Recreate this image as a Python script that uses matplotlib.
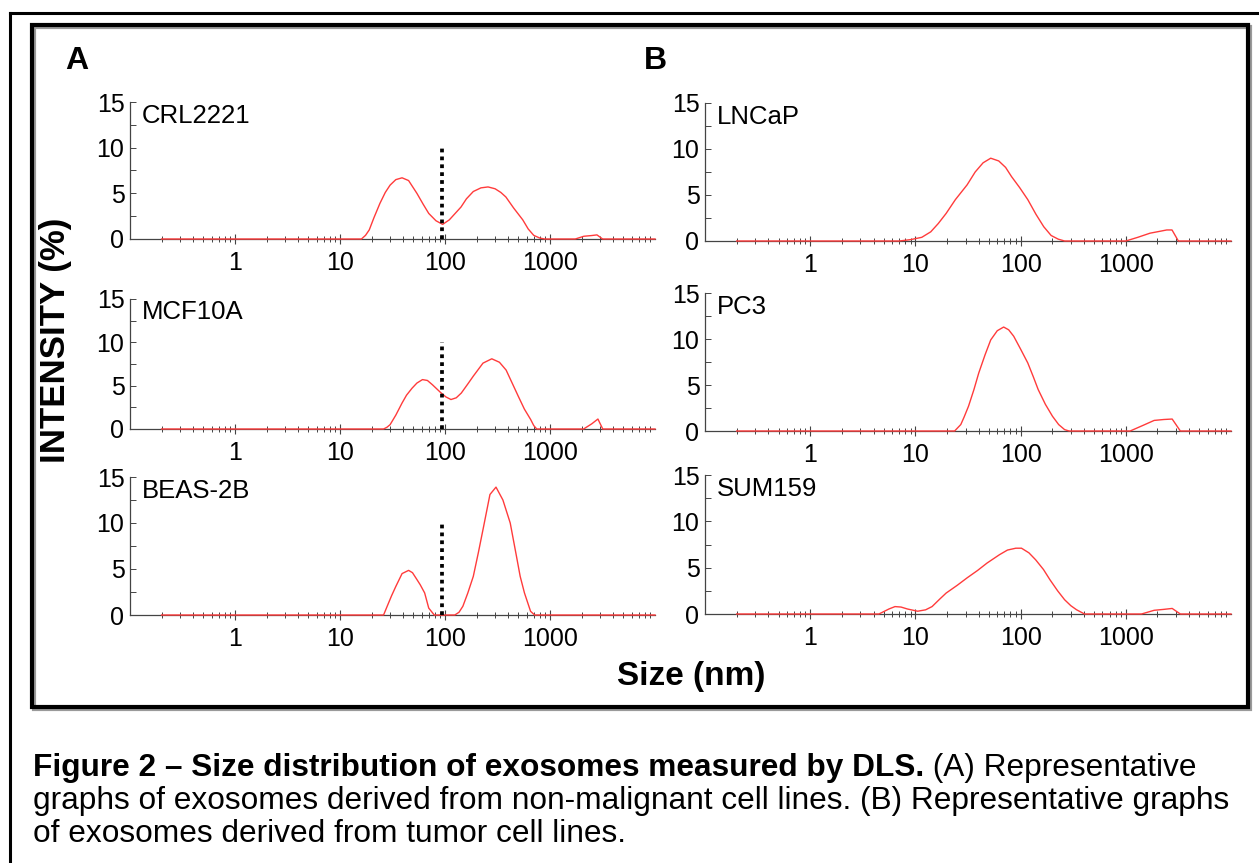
import numpy as np
import matplotlib
matplotlib.use("Agg")
import matplotlib.pyplot as plt
from matplotlib.lines import Line2D
from matplotlib.patches import Rectangle
from matplotlib.ticker import LogLocator, NullFormatter

plt.rcParams['font.family'] = ['Liberation Sans', 'DejaVu Sans']

# ---- data (size nm, intensity %) ----
crl_size = [0.2, 16, 17.5, 19, 21, 24, 27, 30, 34, 39, 45, 54, 62, 70, 82, 95, 110, 125, 142, 160, 186,
            220, 257, 300, 340, 380, 450, 550, 620, 700, 800, 890,
            1740, 2100, 2500, 2800, 3170, 10000]
crl_int = [0, 0, 0.4, 1.0, 2.3, 3.9, 5.1, 5.9, 6.5, 6.7, 6.4, 5.0, 3.8, 2.8, 2.0, 1.6, 2.1, 2.8, 3.5, 4.4,
           5.2, 5.6, 5.7, 5.5, 5.1, 4.6, 3.4, 2.1, 1.1, 0.4, 0.1, 0,
           0, 0.3, 0.38, 0.45, 0, 0]

mcf_size = [0.2, 26, 28, 30, 34, 39, 43, 48.5, 54, 61, 68, 76, 91, 102, 114, 128, 143, 165, 186, 230,
            279, 330, 382, 440, 500, 570, 654, 700, 748, 2090, 2500, 2860, 3180, 10000]
mcf_int = [0, 0, 0.2, 0.5, 1.6, 3.0, 3.9, 4.7, 5.3, 5.7, 5.6, 5.1, 4.2, 3.7, 3.4, 3.6, 4.15, 5.2, 6.1,
           7.6, 8.1, 7.7, 6.8, 5.2, 3.75, 2.3, 1.1, 0.4, 0, 0, 0.6, 1.15, 0, 0]

beas_size = [0.2, 26, 28.5, 31, 34, 39, 45, 49, 53, 58, 64, 70, 79, 124, 136, 148, 165, 186, 208, 233,
             268, 306, 356, 418, 479, 520, 571, 653, 714, 10000]
beas_int = [0, 0, 1.1, 2.1, 3.1, 4.5, 4.85, 4.6, 4.0, 3.3, 2.4, 0.75, 0, 0, 0.3, 0.95, 2.4, 4.2, 6.8, 9.6,
            13.1, 13.9, 12.5, 10.0, 6.4, 4.2, 2.4, 0.4, 0, 0]

lncap_size = [0.2, 7, 9, 11.5, 14, 16.5, 19.6, 24, 31, 37, 44, 52, 62, 72, 82, 98, 117, 140, 166, 195,
              228, 262, 1000, 1300, 1700, 2100, 2450, 2750, 3160, 10000]
lncap_int = [0, 0, 0.15, 0.4, 1.0, 1.9, 3.0, 4.5, 6.1, 7.5, 8.5, 9.0, 8.7, 8.0, 7.0, 5.8, 4.5, 2.9, 1.55,
             0.6, 0.2, 0, 0, 0.4, 0.85, 1.05, 1.2, 1.2, 0, 0]

pc3_size = [0.2, 23.6, 27, 29, 32, 36, 40, 46, 52, 60, 69, 77, 86, 100, 117, 132, 147, 172, 201, 230,
            262, 289, 1100, 1450, 1860, 2300, 2760, 3300, 10000]
pc3_int = [0, 0, 0.7, 1.5, 2.7, 4.5, 6.3, 8.3, 9.9, 10.9, 11.3, 11.0, 10.3, 8.9, 7.4, 5.9, 4.5, 2.9, 1.6,
           0.7, 0.15, 0, 0, 0.6, 1.15, 1.25, 1.3, 0, 0]

sum_size = [0.2, 4.5, 5.6, 6.4, 7.3, 8.4, 10.5, 12.5, 14.4, 17, 19.6, 25, 31, 39, 48, 63, 75, 90, 102,
            120, 139, 165, 190, 225, 262, 300, 340, 405, 1410, 1860, 2300, 2760, 3300, 10000]
sum_int = [0, 0, 0.54, 0.8, 0.75, 0.54, 0.3, 0.45, 0.8, 1.6, 2.26, 3.1, 3.9, 4.7, 5.5, 6.4, 6.9, 7.1,
           7.1, 6.6, 5.85, 4.8, 3.7, 2.5, 1.54, 0.9, 0.46, 0, 0, 0.4, 0.5, 0.6, 0, 0]

panel_names = ['CRL2221', 'MCF10A', 'BEAS-2B', 'LNCaP', 'PC3', 'SUM159']
panel_sizes = [crl_size, mcf_size, beas_size, lncap_size, pc3_size, sum_size]
panel_ints = [crl_int, mcf_int, beas_int, lncap_int, pc3_int, sum_int]
has_cutoff = [True, True, True, False, False, False]
cutoff_nm = 93
xtick_vals = [1, 10, 100, 1000]
xtick_labels = ['1', '10', '100', '1000']
ytick_vals = [0, 5, 10, 15]

W, H = 1259, 863
fig = plt.figure(figsize=(W / 100, H / 100), dpi=100)


def px_box(x0, y0, x1, y1):
    return [x0 / W, 1 - y1 / H, (x1 - x0) / W, (y1 - y0) / H]


boxes = [(130, 102, 655, 239), (130, 299, 655, 429), (130, 477, 655, 615),
         (705, 103, 1231, 241), (705, 293, 1231, 431), (705, 475, 1231, 614)]

for i in range(6):
    ax = fig.add_axes(px_box(*boxes[i]))
    ax.plot(panel_sizes[i], panel_ints[i], color='#ff3b3b', lw=1.0, zorder=3, clip_on=False)
    if has_cutoff[i]:
        ax.plot([cutoff_nm, cutoff_nm], [0, 10], color='black', lw=2.7,
                linestyle=(0, (1, 1.1)), zorder=4)
    ax.set_xscale('log')
    ax.set_xlim(0.1, 10000)
    ax.set_ylim(0, 15)
    for s in ['top', 'right']:
        ax.spines[s].set_visible(False)
    for s in ['left', 'bottom']:
        ax.spines[s].set_color('#444444')
        ax.spines[s].set_linewidth(0.9)
    ax.set_xticks(xtick_vals)
    ax.set_xticklabels(xtick_labels)
    ax.xaxis.set_minor_locator(LogLocator(base=10, subs=np.arange(2, 10), numticks=20))
    ax.xaxis.set_minor_formatter(NullFormatter())
    ax.set_yticks(ytick_vals)
    ax.set_yticks([2.5, 7.5, 12.5], minor=True)
    ax.tick_params(axis='x', which='major', direction='inout', length=7, width=0.8,
                   color='#444444', labelsize=18, pad=5)
    ax.tick_params(axis='x', which='minor', direction='inout', length=4.5, width=0.7,
                   color='#444444')
    ax.tick_params(axis='y', which='both', direction='in', length=4, width=0.7,
                   color='#444444', labelsize=18, pad=4)
    ax.text(0.13, 13.5, panel_names[i], fontsize=18.5, va='center', ha='left')
    ax.patch.set_alpha(0)

# panel letters and axis titles
fig.text(77 / W, 1 - 61 / H, 'A', fontsize=23, fontweight='bold', ha='center', va='center')
fig.text(655 / W, 1 - 61 / H, 'B', fontsize=23, fontweight='bold', ha='center', va='center')
fig.text(55 / W, 1 - 340 / H, 'INTENSITY (%)', fontsize=25, fontweight='bold',
         rotation=90, ha='center', va='center')
fig.text(691 / W, 1 - 677 / H, 'Size (nm)', fontsize=24, fontweight='bold',
         ha='center', va='center')

# frames
fig.add_artist(Line2D([10 / W, 10 / W], [1 - 13 / H, 0], transform=fig.transFigure,
                      color='black', lw=2.2))
fig.add_artist(Line2D([10 / W, 1], [1 - 13 / H, 1 - 13 / H], transform=fig.transFigure,
                      color='black', lw=2.2))
fig.add_artist(Rectangle((34 / W, 1 - 709 / H), 1216 / W, 682 / H, transform=fig.transFigure,
                         fill=False, edgecolor='#9a9a9a', lw=3))
fig.add_artist(Rectangle((32 / W, 1 - 707 / H), 1216 / W, 682 / H, transform=fig.transFigure,
                         fill=False, edgecolor='black', lw=3))

# caption
cap_size = 22.8
t1 = fig.text(33 / W, 1 - 776 / H, 'Figure 2 \u2013 Size distribution of exosomes measured by DLS.',
              fontsize=cap_size, fontweight='bold', ha='left', va='baseline')
fig.canvas.draw()
bb = t1.get_window_extent()
fig.text(bb.x1 / W, 1 - 776 / H, ' (A) Representative', fontsize=cap_size,
         ha='left', va='baseline')
fig.text(33 / W, 1 - 809 / H,
         'graphs of exosomes derived from non-malignant cell lines. (B) Representative graphs',
         fontsize=cap_size, ha='left', va='baseline')
fig.text(33 / W, 1 - 842 / H, 'of exosomes derived from tumor cell lines.',
         fontsize=cap_size, ha='left', va='baseline')

fig.savefig('out.png', dpi=100)
